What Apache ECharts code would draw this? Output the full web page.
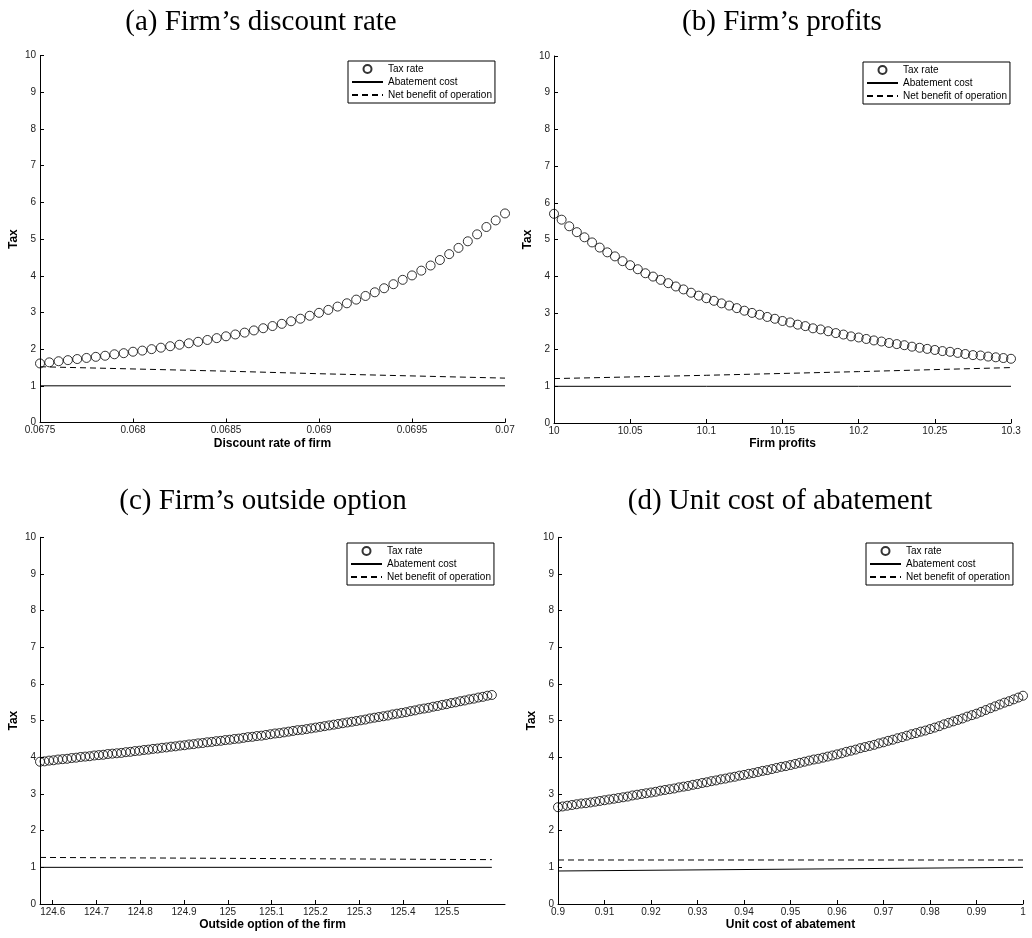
<!DOCTYPE html>
<html>
<head>
<meta charset="utf-8">
<script src="https://cdn.jsdelivr.net/npm/echarts@6/dist/echarts.min.js"></script>
<style>
  body { margin: 0; background: #fff; }
  #chart { width: 1032px; height: 938px; }
</style>
</head>
<body>
<div id="chart"></div>
<script>
// (a) discount rate of firm
const xStartA = 0.0675, xStepA = 0.00005;
const taxA = [1.61, 1.64, 1.67, 1.70, 1.73, 1.76, 1.79, 1.82, 1.86, 1.89,
  1.93, 1.96, 2.00, 2.04, 2.08, 2.12, 2.16, 2.20, 2.25, 2.30,
  2.35, 2.40, 2.45, 2.51, 2.57, 2.63, 2.69, 2.76, 2.83, 2.91,
  2.99, 3.07, 3.16, 3.25, 3.35, 3.45, 3.55, 3.66, 3.77, 3.89,
  4.01, 4.14, 4.28, 4.43, 4.59, 4.76, 4.94, 5.13, 5.33, 5.51, 5.70];
const lineXA = [0.0675, 0.068, 0.0685, 0.069, 0.0695, 0.07];
const abateA = [1, 1, 1, 1, 1, 1];
const netA = [1.52, 1.46, 1.40, 1.33, 1.27, 1.21];
const ticksA = [0.0675, 0.068, 0.0685, 0.069, 0.0695, 0.07];

// (b) firm profits
const xStartB = 10, xStepB = 0.005;
const taxB = [5.70, 5.54, 5.36, 5.20, 5.06, 4.92, 4.78, 4.65, 4.54, 4.41,
  4.30, 4.19, 4.08, 3.99, 3.90, 3.81, 3.72, 3.64, 3.55, 3.47,
  3.40, 3.33, 3.26, 3.20, 3.13, 3.06, 3.00, 2.95, 2.89, 2.84,
  2.78, 2.74, 2.68, 2.64, 2.58, 2.55, 2.50, 2.45, 2.41, 2.36,
  2.33, 2.29, 2.25, 2.22, 2.18, 2.15, 2.12, 2.08, 2.05, 2.02,
  1.99, 1.96, 1.94, 1.91, 1.88, 1.85, 1.84, 1.81, 1.79, 1.77, 1.75];
const lineXB = [10, 10.1, 10.2, 10.3];
const abateB = [1, 1, 1, 1];
const netB = [1.21, 1.30, 1.40, 1.51];
const ticksB = [10, 10.05, 10.1, 10.15, 10.2, 10.25, 10.3];

// (c) outside option of the firm
const xStartC = 124.571, xStepC = 0.01032;
const taxC = [3.88, 3.89, 3.91, 3.92, 3.94, 3.95, 3.96, 3.98, 3.99, 4.01,
  4.02, 4.03, 4.05, 4.06, 4.07, 4.09, 4.10, 4.11, 4.12, 4.14,
  4.15, 4.17, 4.18, 4.20, 4.21, 4.23, 4.24, 4.26, 4.27, 4.29,
  4.30, 4.32, 4.33, 4.35, 4.36, 4.38, 4.39, 4.41, 4.42, 4.44,
  4.45, 4.47, 4.48, 4.50, 4.51, 4.53, 4.55, 4.56, 4.58, 4.59,
  4.61, 4.63, 4.65, 4.66, 4.68, 4.70, 4.72, 4.74, 4.75, 4.77,
  4.79, 4.81, 4.83, 4.85, 4.87, 4.89, 4.91, 4.93, 4.95, 4.97,
  4.99, 5.01, 5.03, 5.06, 5.08, 5.10, 5.12, 5.14, 5.17, 5.19,
  5.21, 5.23, 5.26, 5.28, 5.31, 5.33, 5.35, 5.38, 5.40, 5.43,
  5.45, 5.48, 5.50, 5.53, 5.55, 5.58, 5.60, 5.63, 5.65, 5.68, 5.70];
const lineXC = [124.571, 125.603];
const abateC = [1, 1];
const netC = [1.27, 1.21];
const ticksC = [124.6, 124.7, 124.8, 124.9, 125, 125.1, 125.2, 125.3, 125.4, 125.5];

// (d) unit cost of abatement
const xStartD = 0.9, xStepD = 0.001;
const taxD = [2.64, 2.66, 2.68, 2.70, 2.72, 2.74, 2.75, 2.77, 2.79, 2.81,
  2.83, 2.85, 2.87, 2.89, 2.91, 2.93, 2.96, 2.98, 3.00, 3.02,
  3.04, 3.06, 3.09, 3.11, 3.13, 3.15, 3.18, 3.20, 3.22, 3.25,
  3.27, 3.30, 3.32, 3.35, 3.37, 3.40, 3.42, 3.45, 3.47, 3.50,
  3.52, 3.55, 3.57, 3.60, 3.63, 3.65, 3.68, 3.71, 3.74, 3.76,
  3.79, 3.82, 3.85, 3.88, 3.91, 3.94, 3.96, 3.99, 4.02, 4.05,
  4.08, 4.11, 4.15, 4.18, 4.21, 4.25, 4.28, 4.31, 4.34, 4.38,
  4.41, 4.45, 4.48, 4.52, 4.55, 4.59, 4.63, 4.66, 4.70, 4.73,
  4.77, 4.81, 4.85, 4.90, 4.94, 4.98, 5.02, 5.06, 5.11, 5.15,
  5.19, 5.24, 5.29, 5.34, 5.39, 5.44, 5.49, 5.53, 5.58, 5.63, 5.68];
const lineXD = [0.9, 1.0];
const abateD = [0.9, 1.0];
const netD = [1.2, 1.2];
const ticksD = [0.9, 0.91, 0.92, 0.93, 0.94, 0.95, 0.96, 0.97, 0.98, 0.99, 1];

const legendNames = ['Tax rate', 'Abatement cost', 'Net benefit of operation'];

const panels = [
  { title: '(a) Firm’s discount rate', titleX: 256, titleY: 3,
    grid: { left: 40, top: 55.7, width: 465, height: 366.8 },
    xMin: 0.0675, xMax: 0.07, ticks: ticksA, xName: 'Discount rate of firm',
    x0: xStartA, dx: xStepA, tax: taxA, lx: lineXA, abate: abateA, net: netA,
    legend: { left: 348, top: 61 } },
  { title: '(b) Firm’s profits', titleX: 777, titleY: 3,
    grid: { left: 554, top: 56, width: 457, height: 367 },
    xMin: 10, xMax: 10.3, ticks: ticksB, xName: 'Firm profits',
    x0: xStartB, dx: xStepB, tax: taxB, lx: lineXB, abate: abateB, net: netB,
    legend: { left: 863, top: 62 } },
  { title: '(c) Firm’s outside option', titleX: 258, titleY: 482,
    grid: { left: 40, top: 537.3, width: 465, height: 366.7 },
    xMin: 124.571, xMax: 125.633, ticks: ticksC, xName: 'Outside option of the firm',
    x0: xStartC, dx: xStepC, tax: taxC, lx: lineXC, abate: abateC, net: netC,
    legend: { left: 347, top: 543 } },
  { title: '(d) Unit cost of abatement', titleX: 775, titleY: 482,
    grid: { left: 558, top: 537.3, width: 465, height: 366.7 },
    xMin: 0.9, xMax: 1.0, ticks: ticksD, xName: 'Unit cost of abatement',
    x0: xStartD, dx: xStepD, tax: taxD, lx: lineXD, abate: abateD, net: netD,
    legend: { left: 866, top: 543 } }
];

const sans = 'Liberation Sans, Arial, sans-serif';
const axisLine = { show: true, onZero: false, lineStyle: { color: '#000', width: 1 } };
// hide the dot ECharts puts in the middle of line legend icons
const noDot = { color: 'rgba(0,0,0,0)', borderWidth: 0 };

const option = {
  animation: false,
  backgroundColor: '#fff',
  title: panels.map(p => ({
    text: p.title, left: p.titleX, top: p.titleY, textAlign: 'center',
    textStyle: { fontFamily: 'Liberation Serif, serif', fontSize: 29, fontWeight: 'normal', color: '#000' }
  })),
  legend: panels.map(p => ({
    left: p.legend.left, top: p.legend.top, orient: 'vertical', align: 'left',
    itemWidth: 31, itemHeight: 8, itemGap: 1, padding: [2, 3, 2, 3],
    borderColor: '#000', borderWidth: 1, borderRadius: 0, backgroundColor: '#fff',
    selectedMode: false,
    textStyle: { fontFamily: sans, fontSize: 10, color: '#000', lineHeight: 12 },
    data: [
      { name: legendNames[0] },
      { name: legendNames[1], itemStyle: noDot },
      { name: legendNames[2], itemStyle: noDot }
    ]
  })),
  grid: panels.map(p => p.grid),
  xAxis: panels.map((p, i) => ({
    type: 'value', gridIndex: i, min: p.xMin, max: p.xMax,
    name: p.xName, nameLocation: 'middle', nameGap: 15,
    nameTextStyle: { fontFamily: sans, fontSize: 12, fontWeight: 'bold', color: '#000' },
    axisLine: axisLine,
    axisTick: { show: true, inside: true, length: 4, customValues: p.ticks, lineStyle: { color: '#000' } },
    axisLabel: { customValues: p.ticks, margin: 3, fontFamily: sans, fontSize: 10, color: '#222' },
    splitLine: { show: false }
  })),
  yAxis: panels.map((p, i) => ({
    type: 'value', gridIndex: i, min: 0, max: 10, interval: 1,
    name: 'Tax', nameLocation: 'middle', nameGap: 20,
    nameTextStyle: { fontFamily: sans, fontSize: 12, fontWeight: 'bold', color: '#000' },
    axisLine: axisLine,
    axisTick: { show: true, inside: true, length: 4, lineStyle: { color: '#000' } },
    axisLabel: { margin: 4, fontFamily: sans, fontSize: 10, color: '#222', showMinLabel: true, showMaxLabel: true },
    splitLine: { show: false }
  })),
  series: []
};

panels.forEach((p, i) => {
  option.series.push({
    type: 'line', name: 'Abatement cost', xAxisIndex: i, yAxisIndex: i,
    data: p.lx.map((x, j) => [x, p.abate[j]]),
    symbol: 'none', lineStyle: { color: '#000', width: 1 }, itemStyle: { color: '#000' }, z: 2
  });
  option.series.push({
    type: 'line', name: 'Net benefit of operation', xAxisIndex: i, yAxisIndex: i,
    data: p.lx.map((x, j) => [x, p.net[j]]),
    symbol: 'none', lineStyle: { color: '#000', width: 1, type: [6, 4] }, itemStyle: { color: '#000' }, z: 2
  });
  option.series.push({
    type: 'scatter', name: 'Tax rate', xAxisIndex: i, yAxisIndex: i,
    data: p.tax.map((v, j) => [p.x0 + j * p.dx, v]),
    symbol: 'circle', symbolSize: 9, clip: false,
    itemStyle: { color: 'rgba(0,0,0,0)', borderColor: '#000', borderWidth: 1 }, z: 3
  });
});

const chart = echarts.init(document.getElementById('chart'), null, { renderer: 'canvas' });
chart.setOption(option);
</script>
</body>
</html>
